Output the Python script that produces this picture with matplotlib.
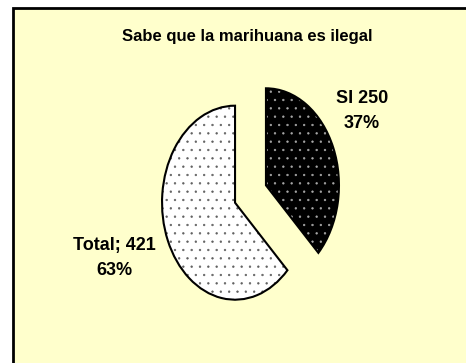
import matplotlib.pyplot as plt
from matplotlib.patches import Rectangle

# data
labels = ["SI", "Total"]
values = [250, 421]
percents = ["37%", "63%"]

FONT = ["Liberation Sans", "DejaVu Sans"]
plt.rcParams["hatch.linewidth"] = 0.45

W, H = 466, 363
fig = plt.figure(figsize=(W / 100, H / 100), dpi=100)
fig.patch.set_facecolor("white")

# chart area: pale yellow panel with a dark left/top border
fig.patches.append(Rectangle((13 / W, -0.05), 1.1, 1 - 8 / H + 0.05,
                             transform=fig.transFigure, facecolor="#FFFFCC",
                             edgecolor="black", linewidth=2, zorder=-1))

fig.text(247 / W, 1 - 37 / H, "Sabe que la marihuana es ilegal",
         ha="center", va="center", fontsize=12, fontweight="bold",
         family=FONT)

# axes sized so the pie becomes a tall ellipse
ax = fig.add_axes([104.5 / W, 23.5 / H, 292 / W, 291 / H])
ax.set_facecolor("none")

explode = [0.23, 0.23]
wedges, _ = ax.pie(values, explode=explode, startangle=90, counterclock=False,
                   colors=["black", "white"],
                   wedgeprops=dict(linewidth=0))
wedges[0].set_hatch("..")
wedges[0].set_edgecolor("#a8a8a8")
wedges[1].set_hatch("..")
wedges[1].set_edgecolor("#606060")
for w in wedges:
    w.set_linewidth(0)

# outlines on top
ax.pie(values, explode=explode, startangle=90, counterclock=False,
       wedgeprops=dict(fill=False, edgecolor="black", linewidth=1.5))

ax.set_aspect("auto")
ax.set_xlim(-2, 2)
ax.set_ylim(-1.5, 1.5)
ax.axis("off")

fig.text(362 / W, 1 - 111 / H, f"{labels[0]} {values[0]}\n{percents[0]}",
         ha="center", va="center", fontsize=13, fontweight="bold",
         family=FONT, linespacing=1.65)
fig.text(114 / W, 1 - 258 / H, f"{labels[1]}; {values[1]}\n{percents[1]}",
         ha="center", va="center", fontsize=13, fontweight="bold",
         family=FONT, linespacing=1.65)

fig.savefig("out.png", dpi=100)
